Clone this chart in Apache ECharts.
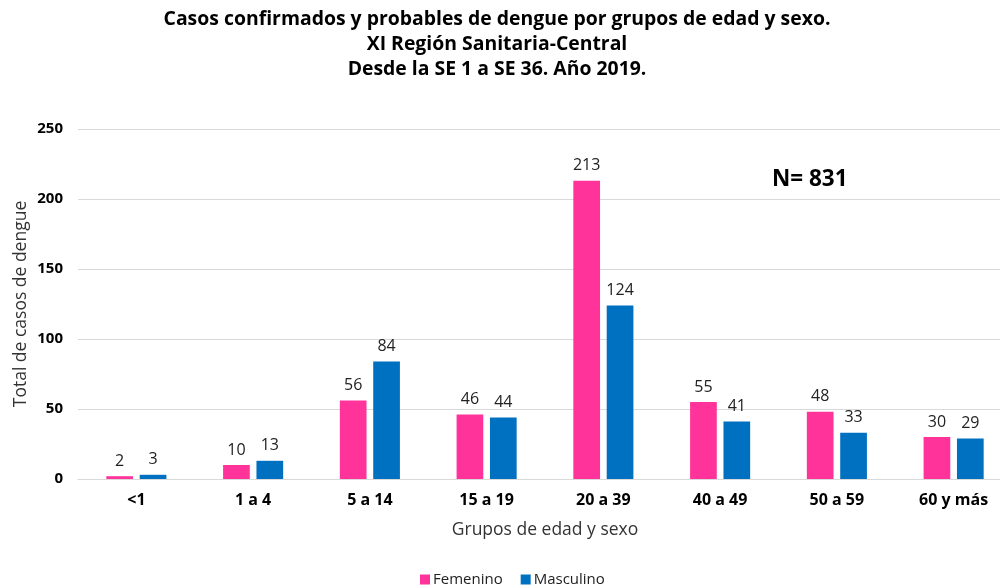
<!DOCTYPE html>
<html><head><meta charset="utf-8">
<script src="https://cdn.jsdelivr.net/npm/echarts@6/dist/echarts.min.js"></script>
<style>html,body{margin:0;padding:0;background:#fff}#c{width:1000px;height:588px}</style>
</head><body><div id="c"></div>
<script>
const categories = ['<1','1 a 4','5 a 14','15 a 19','20 a 39','40 a 49','50 a 59','60 y más'];
const femenino = [2,10,56,46,213,55,48,30];
const masculino = [3,13,84,44,124,41,33,29];
const yTicks = [0,50,100,150,200,250];
const titleText = 'Casos confirmados y probables de dengue por grupos de edad y sexo.\nXI Región Sanitaria-Central\nDesde la SE 1 a SE 36. Año 2019.';
const nText = 'N= 831';

const FONT = '"Open Sans", "Noto Sans", sans-serif';
const chart = echarts.init(document.getElementById('c'), null, {renderer:'canvas'});
chart.setOption({
  animation:false,
  textStyle:{fontFamily:FONT},
  legend:{top:567,left:415,itemWidth:10,itemHeight:10,itemGap:18,icon:'rect',
    textStyle:{fontFamily:FONT,fontSize:15,color:'#222',padding:[0,0,0,-2]},data:['Femenino','Masculino']},
  grid:{left:78,width:934,top:129,bottom:109,outerBoundsMode:'none',containLabel:false},
  graphic:[
    {type:'text',x:497,y:7,style:{text:titleText,font:'bold 19.4px '+FONT,fill:'#000',align:'center',lineHeight:25}},
    {type:'text',left:772,top:168,style:{text:nText,font:'bold 22.5px '+FONT,fill:'#000'}}
  ],
  xAxis:{type:'category',data:categories,
    name:'Grupos de edad y sexo',nameLocation:'middle',nameGap:42,nameMoveOverlap:false,
    nameTextStyle:{fontFamily:FONT,fontSize:17.5,color:'#333'},
    axisLine:{lineStyle:{color:'#d9d9d9'}},axisTick:{show:false},
    axisLabel:{fontFamily:FONT,fontSize:16,fontWeight:'bold',color:'#000',margin:13}},
  yAxis:{type:'value',min:0,max:250,interval:50,
    name:'Total de casos de dengue',nameLocation:'middle',nameGap:48,nameMoveOverlap:false,
    nameTextStyle:{fontFamily:FONT,fontSize:17.5,color:'#333'},
    axisLine:{show:false},axisTick:{show:false},
    axisLabel:{fontFamily:FONT,fontSize:15,fontWeight:'bold',color:'#000',margin:15},
    splitLine:{lineStyle:{color:'#d9d9d9'}}},
  series:[
    {name:'Femenino',type:'bar',data:femenino,barWidth:26.7,barGap:'25%',
      itemStyle:{color:'#FF3399'},
      label:{show:true,position:'top',distance:7,fontFamily:FONT,fontSize:16,color:'#222'}},
    {name:'Masculino',type:'bar',data:masculino,barWidth:26.7,
      itemStyle:{color:'#0070C0'},
      label:{show:true,position:'top',distance:7,fontFamily:FONT,fontSize:16,color:'#222'}}
  ]
});
</script></body></html>
